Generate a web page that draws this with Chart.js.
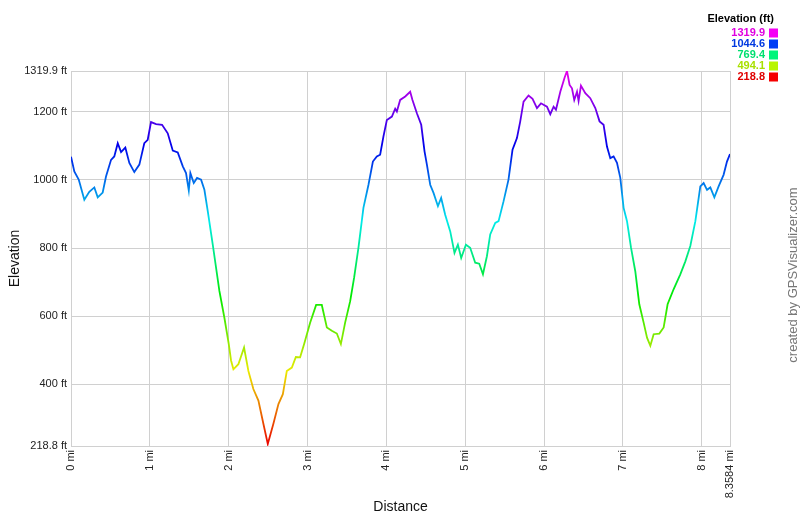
<!DOCTYPE html>
<html>
<head>
<meta charset="utf-8">
<script src="https://cdn.jsdelivr.net/npm/chart.js@4.4.1/dist/chart.umd.min.js"></script>
<style>
  html, body { margin: 0; padding: 0; background: #fff; }
  #wrap { position: relative; width: 800px; height: 517px; }
</style>
</head>
<body>
<div id="wrap"><canvas id="elevChart" width="800" height="517"></canvas></div>
<script>
// DATA
const distMi = [
  0, 0.042, 0.098, 0.169, 0.232, 0.296, 0.339, 0.402, 0.444, 0.508, 0.549, 0.593, 0.635, 0.689, 0.740,
  0.803, 0.867, 0.930, 0.973, 1.015, 1.079, 1.155, 1.227, 1.291, 1.354, 1.418, 1.459, 1.494, 1.514, 1.557,
  1.599, 1.650, 1.692, 1.735, 1.798, 1.882, 1.945, 2.001, 2.030, 2.060, 2.123, 2.195, 2.250, 2.313, 2.377,
  2.440, 2.496, 2.567, 2.631, 2.687, 2.737, 2.801, 2.852, 2.906, 2.957, 3.033, 3.109, 3.181, 3.245, 3.308,
  3.372, 3.423, 3.477, 3.541, 3.591, 3.646, 3.709, 3.773, 3.829, 3.879, 3.921, 3.963, 4.006, 4.070, 4.112,
  4.133, 4.175, 4.239, 4.302, 4.331, 4.387, 4.442, 4.484, 4.514, 4.556, 4.598, 4.654, 4.695, 4.746, 4.810,
  4.864, 4.907, 4.949, 5.009, 5.063, 5.127, 5.178, 5.225, 5.275, 5.317, 5.381, 5.423, 5.486, 5.549, 5.600,
  5.656, 5.698, 5.740, 5.803, 5.854, 5.910, 5.961, 6.037, 6.079, 6.121, 6.151, 6.206, 6.260, 6.291, 6.324,
  6.354, 6.383, 6.418, 6.438, 6.468, 6.523, 6.586, 6.650, 6.704, 6.755, 6.798, 6.840, 6.882, 6.925, 6.967,
  7.009, 7.052, 7.103, 7.157, 7.208, 7.263, 7.306, 7.348, 7.390, 7.462, 7.517, 7.567, 7.643, 7.728, 7.792,
  7.855, 7.919, 7.982, 8.024, 8.067, 8.109, 8.160, 8.214, 8.277, 8.320, 8.3584
];
const elevFt = [
  1068, 1025, 1001, 942, 965, 978, 949, 963, 1010, 1059, 1069, 1108, 1082, 1095, 1050,
  1023, 1045, 1108, 1118, 1170, 1164, 1162, 1137, 1086, 1081, 1040, 1020, 969, 1020, 991,
  1006, 1001, 971, 908, 810, 674, 596, 518, 470, 444, 459, 508, 439, 386, 352,
  284, 225, 284, 342, 371, 439, 449, 480, 479, 518, 581, 633, 633, 567, 557,
  549, 518, 581, 644, 713, 801, 918, 986, 1054, 1069, 1074, 1128, 1176, 1186, 1209,
  1201, 1235, 1245, 1259, 1235, 1196, 1162, 1084, 1045, 986, 962, 923, 947, 898, 849,
  786, 810, 771, 810, 801, 757, 754, 723, 776, 840, 874, 879, 937, 1001, 1089,
  1123, 1172, 1230, 1248, 1238, 1211, 1225, 1215, 1193, 1215, 1206, 1259, 1300, 1319.9, 1279,
  1269, 1235, 1259, 1232, 1277, 1255, 1240, 1211, 1172, 1162, 1098, 1064, 1069, 1050, 1006,
  918, 879, 801, 732, 635, 581, 537, 513, 547, 549, 567, 635, 679, 723, 761,
  806, 879, 981, 991, 971, 978, 949, 981, 1015, 1054, 1076
];
const xTicks = [0, 1, 2, 3, 4, 5, 6, 7, 8, 8.3584];
const yTicks = [218.8, 400, 600, 800, 1000, 1200, 1319.9];
const legendValues = ['1319.9', '1044.6', '769.4', '494.1', '218.8'];

const yMin = 218.8;
const yMax = 1319.9;

// colour by elevation: red at the bottom, magenta at the top
function hueFor(ft) {
  return (ft - yMin) / (yMax - yMin) * 300;
}

function elevGradient(context) {
  const chart = context.chart;
  const area = chart.chartArea;
  if (!area) return '#00f';
  const yScale = chart.scales.y;
  const g = chart.ctx.createLinearGradient(0, yScale.getPixelForValue(yMin), 0, yScale.getPixelForValue(yMax));
  for (let i = 0; i <= 10; i++) {
    g.addColorStop(i / 10, `hsl(${i * 30}, 100%, 46%)`);
  }
  return g;
}

// LEGEND + CREDIT
const extrasPlugin = {
  id: 'extras',
  afterDraw(chart) {
    const c = chart.ctx;
    c.save();
    c.textBaseline = 'middle';
    c.textAlign = 'right';
    c.fillStyle = '#000';
    c.font = 'bold 11px "Liberation Sans", Arial, sans-serif';
    c.fillText('Elevation (ft)', 774, 19);

    legendValues.forEach((v, i) => {
      const hue = hueFor(parseFloat(v));
      const y = 33 + i * 11;
      c.fillStyle = `hsl(${hue}, 100%, 44%)`;
      c.fillText(v, 765, y);
      c.fillStyle = `hsl(${hue}, 100%, 48%)`;
      c.fillRect(769, y - 4.5, 9, 9);
    });

    c.translate(793, 275);
    c.rotate(-Math.PI / 2);
    c.textAlign = 'center';
    c.fillStyle = '#777';
    c.font = '13px "Liberation Sans", Arial, sans-serif';
    c.fillText('created by GPSVisualizer.com', 0, 0);
    c.restore();
  }
};

const ctx = document.getElementById('elevChart').getContext('2d');
const tickFont = { family: '"Liberation Sans", Arial, sans-serif', size: 11 };
const titleFont = { family: '"Liberation Sans", Arial, sans-serif', size: 14 };

new Chart(ctx, {
  type: 'line',
  data: {
    datasets: [{
      data: distMi.map((d, i) => ({ x: d, y: elevFt[i] })),
      borderColor: elevGradient,
      borderWidth: 1.8,
      pointRadius: 0,
      tension: 0,
      fill: false
    }]
  },
  options: {
    responsive: false,
    animation: false,
    layout: { padding: { left: 0, right: 70, top: 71, bottom: 0 } },
    plugins: { legend: { display: false }, tooltip: { enabled: false } },
    scales: {
      x: {
        type: 'linear',
        min: 0,
        max: 8.3584,
        afterBuildTicks: s => { s.ticks = xTicks.map(v => ({ value: v })); },
        afterFit: s => { s.height = 71; },
        ticks: {
          autoSkip: false,
          minRotation: 90,
          maxRotation: 90,
          padding: 4,
          color: '#222',
          font: tickFont,
          callback: v => v + ' mi'
        },
        grid: { color: '#d0d0d0', lineWidth: 1, drawTicks: false },
        border: { color: '#d0d0d0' },
        title: { display: true, text: 'Distance', color: '#111', font: titleFont, padding: { top: 0, bottom: 1 } }
      },
      y: {
        min: yMin,
        max: yMax,
        afterBuildTicks: s => { s.ticks = yTicks.map(v => ({ value: v })); },
        afterFit: s => { s.width = 71; },
        ticks: {
          padding: 4,
          color: '#222',
          font: tickFont,
          callback: v => v + ' ft'
        },
        grid: { color: '#d0d0d0', lineWidth: 1, drawTicks: false },
        border: { color: '#d0d0d0' },
        title: { display: true, text: 'Elevation', color: '#111', font: titleFont, padding: { top: 7, bottom: 0 } }
      }
    }
  },
  plugins: [extrasPlugin]
});
</script>
</body>
</html>
